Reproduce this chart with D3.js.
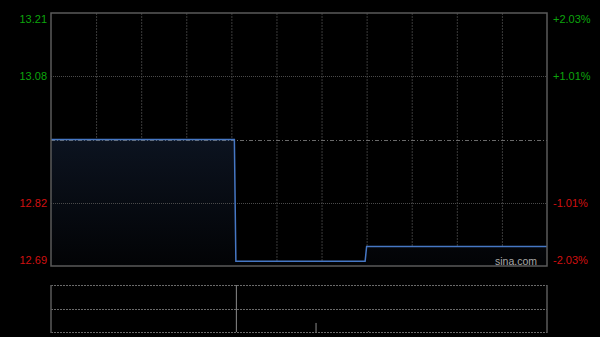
<!DOCTYPE html>
<html>
<head>
<meta charset="utf-8">
<script src="https://cdn.jsdelivr.net/npm/d3@7"></script>
<style>
  html, body { margin: 0; padding: 0; background: #000; }
  svg { display: block; }
</style>
</head>
<body>
<div id="chart"></div>
<script>
const width = 600
const height = 337

// Dados (preço por minuto, só os pontos onde muda)
const times = ["09:30", "11:32", "11:33", "13:59", "14:00", "16:00"]
const prices = [12.95, 12.95, 12.70, 12.70, 12.73, 12.73]
const prevClose = 12.95

// Volume
const volTimes = ["11:33", "13:26", "14:01"]
const volumes = [52000, 10000, 800]

// Eixos
const priceTicks = [13.21, 13.08, 12.95, 12.82, 12.69]
const priceLabels = ["13.21", "13.08", "", "12.82", "12.69"]
const pctLabels = ["+2.03%", "+1.01%", "", "-1.01%", "-2.03%"]

// minutos desde 9:30, com pausa de almoço 12:00-13:00
let toIndex = (t) => {
  let [h, m] = t.split(":").map(Number)
  let mins = h * 60 + m - (9 * 60 + 30)
  if (h >= 13) mins -= 60
  return mins
}

const svg = d3.select("#chart")
  .append("svg")
  .attr("width", width)
  .attr("height", height)

svg.append("rect").attr("width", width).attr("height", height).attr("fill", "#000")

const x = d3.scaleLinear().domain([0, 330]).range([51, 547])
const y = d3.scaleLinear().domain([12.69, 13.21]).range([266, 13])
const yVol = d3.scaleLinear().domain([0, d3.max(volumes)]).range([332, 285])

// Gradiente do preenchimento
const defs = svg.append("defs")
const grad = defs.append("linearGradient")
  .attr("id", "fillGrad")
  .attr("gradientUnits", "userSpaceOnUse")
  .attr("x1", 0).attr("x2", 0)
  .attr("y1", y.range()[1]).attr("y2", y.range()[0])
grad.append("stop").attr("offset", "0%").attr("stop-color", "#16233a")
grad.append("stop").attr("offset", "100%").attr("stop-color", "#020305")

// Grade vertical (a cada 30 min)
const vTicks = d3.range(30, 330, 30)
svg.selectAll(".vgrid")
  .data(vTicks)
  .enter()
  .append("line")
  .attr("x1", d => x(d) + 0.5).attr("x2", d => x(d) + 0.5)
  .attr("y1", y.range()[1]).attr("y2", y.range()[0])
  .attr("stroke", "#3a3a3a")
  .attr("stroke-width", 1)
  .attr("stroke-dasharray", "2,1")

const data = times.map((t, i) => ({ i: toIndex(t), p: prices[i] }))

// Área
const area = d3.area()
  .x(d => x(d.i))
  .y0(y.range()[0])
  .y1(d => y(d.p))
svg.append("path")
  .datum(data)
  .attr("d", area)
  .attr("fill", "url(#fillGrad)")

// Grade horizontal
svg.selectAll(".hgrid")
  .data(priceTicks.slice(1, 4))
  .enter()
  .append("line")
  .attr("x1", x.range()[0]).attr("x2", x.range()[1])
  .attr("y1", d => Math.round(y(d)) + 0.5).attr("y2", d => Math.round(y(d)) + 0.5)
  .attr("stroke", d => d === prevClose ? "#6a6a6a" : "#4a4a4a")
  .attr("stroke-width", 1)
  .attr("stroke-dasharray", d => d === prevClose ? "4,2,1,2" : "1,1")

// Linha de preço
const line = d3.line()
  .x(d => x(d.i))
  .y(d => y(d.p))
svg.append("path")
  .datum(data)
  .attr("d", line)
  .attr("fill", "none")
  .attr("stroke", "#4677c4")
  .attr("stroke-width", 1.5)

// Borda do gráfico de preço
svg.append("rect")
  .attr("x", x.range()[0]).attr("y", y.range()[1])
  .attr("width", x.range()[1] - x.range()[0])
  .attr("height", y.range()[0] - y.range()[1])
  .attr("fill", "none")
  .attr("stroke", "#5a5a5a")
  .attr("stroke-width", 1.5)

// Rótulos
const fontFam = "'Liberation Sans', Arial, sans-serif"
let labelY = (d, i) => {
  let py = y(d)
  if (i === 0) return py + 6
  if (i === priceTicks.length - 1) return py - 6
  return py
}
let labelColor = d => d > prevClose ? "#0ca40c" : "#d01010"

svg.selectAll(".lab")
  .data(priceTicks)
  .enter()
  .append("text")
  .attr("x", 47)
  .attr("y", (d, i) => labelY(d, i))
  .attr("dy", "0.35em")
  .attr("text-anchor", "end")
  .attr("font-family", fontFam)
  .attr("font-size", 11)
  .attr("fill", labelColor)
  .text((d, i) => priceLabels[i])

svg.selectAll(".pct")
  .data(priceTicks)
  .enter()
  .append("text")
  .attr("x", 553)
  .attr("y", (d, i) => labelY(d, i))
  .attr("dy", "0.35em")
  .attr("text-anchor", "start")
  .attr("font-family", fontFam)
  .attr("font-size", 11)
  .attr("fill", labelColor)
  .text((d, i) => pctLabels[i])

svg.append("text")
  .attr("x", 537)
  .attr("y", 265)
  .attr("text-anchor", "end")
  .attr("font-family", fontFam)
  .attr("font-size", 10.5)
  .attr("fill", "#a8a8a8")
  .text("sina.com")

// Painel de volume
const vTop = yVol.range()[1], vBot = yVol.range()[0]
svg.selectAll(".volgrid")
  .data([vTop, (vTop + vBot) / 2, vBot])
  .enter()
  .append("line")
  .attr("x1", x.range()[0]).attr("x2", x.range()[1])
  .attr("y1", d => Math.round(d) + 0.5).attr("y2", d => Math.round(d) + 0.5)
  .attr("stroke", "#6a6a6a")
  .attr("stroke-width", 1)
  .attr("stroke-dasharray", "2,1")

svg.selectAll(".volside")
  .data(x.range())
  .enter()
  .append("line")
  .attr("x1", d => d).attr("x2", d => d)
  .attr("y1", vTop).attr("y2", vBot + 1)
  .attr("stroke", "#5a5a5a")
  .attr("stroke-width", 1.5)

svg.selectAll(".vol")
  .data(volumes)
  .enter()
  .append("line")
  .attr("x1", (d, i) => x(toIndex(volTimes[i])) + 0.5)
  .attr("x2", (d, i) => x(toIndex(volTimes[i])) + 0.5)
  .attr("y1", vBot)
  .attr("y2", d => yVol(d))
  .attr("stroke", "#8a8a8a")
  .attr("stroke-width", 1)
</script>
</body>
</html>
